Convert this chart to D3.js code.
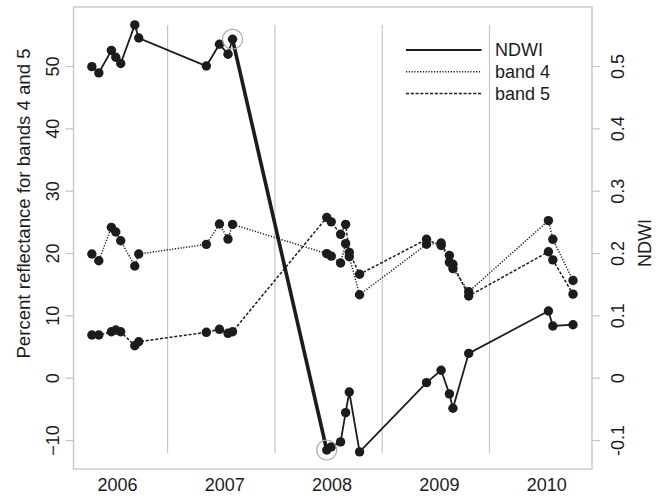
<!DOCTYPE html>
<html>
<head>
<meta charset="utf-8">
<script src="https://cdn.jsdelivr.net/npm/d3@7"></script>
<style>
  html, body { margin: 0; padding: 0; background: #fff; }
  svg { display: block; font-family: "Liberation Sans", Arial, Helvetica, sans-serif; }
</style>
</head>
<body>
<svg id="chart" width="656" height="498"></svg>
<script>
// Observation dates (decimal years)
const dates = [
  2005.766, 2005.831, 2005.948, 2005.989, 2006.035, 2006.166, 2006.203,
  2006.833, 2006.955, 2007.035, 2007.077,
  2007.955, 2007.997, 2008.084, 2008.131, 2008.165, 2008.261,
  2008.885, 2009.021, 2009.098, 2009.131, 2009.278,
  2010.021, 2010.062, 2010.250
];
// NDWI (right axis)
const ndwi = [
  0.499, 0.489, 0.525, 0.514, 0.504, 0.566, 0.545,
  0.500, 0.535, 0.519, 0.543,
  -0.116, -0.111, -0.103, -0.056, -0.023, -0.119,
  -0.008, 0.012, -0.026, -0.049, 0.039,
  0.107, 0.083, 0.085
];
// Percent reflectance, band 4
const band4 = [
  19.84, 18.76, 24.12, 23.37, 21.97, 17.91, 19.84,
  21.39, 24.65, 22.24, 24.60,
  19.90, 19.50, 18.40, 21.50, 19.40, 13.30,
  21.40, 21.60, 18.50, 17.50, 13.80,
  25.20, 22.20, 15.60
];
// Percent reflectance, band 5
const band5 = [
  6.84, 6.84, 7.37, 7.64, 7.37, 5.13, 5.77,
  7.28, 7.76, 7.12, 7.37,
  25.70, 25.00, 23.00, 24.60, 20.10, 16.60,
  22.20, 21.20, 19.60, 18.20, 13.10,
  20.20, 18.90, 13.40
];
// Index of the two NDWI observations marking the abrupt change
const changeFrom = 10, changeTo = 11;

const yearTicks = [2006, 2007, 2008, 2009, 2010];
const gridYears = [2006.472, 2007.472, 2008.472, 2009.472];
const leftTicks = [-10, 0, 10, 20, 30, 40, 50];
const rightTicks = [-0.1, 0, 0.1, 0.2, 0.3, 0.4, 0.5];
const rightTickLabels = ["-0.1", "0", "0.1", "0.2", "0.3", "0.4", "0.5"];
const legendNames = ["NDWI", "band 4", "band 5"];

const svg = d3.select("#chart");
const box = { left: 73.5, right: 592, top: 7, bottom: 469 };
const ink = "#1c1c1c";
const light = "#c4c4c4";

const x = d3.scaleLinear().domain([2005.595, 2010.427]).range([box.left, box.right]);
const y = d3.scaleLinear().domain([-14.65, 59.47]).range([box.bottom, box.top]);
const yR = d3.scaleLinear().domain([-0.1465, 0.5947]).range([box.bottom, box.top]);

// vertical year separators
svg.append("g").selectAll("line").data(gridYears).join("line")
  .attr("x1", d => x(d)).attr("x2", d => x(d))
  .attr("y1", box.top + 18).attr("y2", box.bottom - 16)
  .attr("stroke", light).attr("stroke-width", 1.2);

// plot frame
svg.append("rect")
  .attr("x", box.left).attr("y", box.top)
  .attr("width", box.right - box.left).attr("height", box.bottom - box.top)
  .attr("fill", "none").attr("stroke", light).attr("stroke-width", 1.3);

const idx = d3.range(dates.length);
const lineB = vals => d3.line().x(i => x(dates[i])).y(i => y(vals[i]));

// band 5 (dashed)
svg.append("path").attr("d", lineB(band5)(idx))
  .attr("fill", "none").attr("stroke", ink).attr("stroke-width", 1.5)
  .attr("stroke-dasharray", "3,1.8");
// band 4 (dotted)
svg.append("path").attr("d", lineB(band4)(idx))
  .attr("fill", "none").attr("stroke", ink).attr("stroke-width", 1.5)
  .attr("stroke-dasharray", "1.2,1.6");

// NDWI (solid), with the change segment emphasised
const lineN = d3.line().x(i => x(dates[i])).y(i => yR(ndwi[i]));
svg.append("path").attr("d", lineN(idx.slice(0, changeFrom + 1)))
  .attr("fill", "none").attr("stroke", ink).attr("stroke-width", 1.8);
svg.append("path").attr("d", lineN(idx.slice(changeTo)))
  .attr("fill", "none").attr("stroke", ink).attr("stroke-width", 1.8);
svg.append("path").attr("d", lineN([changeFrom, changeTo]))
  .attr("fill", "none").attr("stroke", ink).attr("stroke-width", 3.6);

// points
const pts = svg.append("g").attr("fill", ink);
[band4, band5].forEach(vals => {
  pts.append("g").selectAll("circle").data(idx).join("circle")
    .attr("cx", i => x(dates[i])).attr("cy", i => y(vals[i])).attr("r", 4.7);
});
pts.append("g").selectAll("circle").data(idx).join("circle")
  .attr("cx", i => x(dates[i])).attr("cy", i => yR(ndwi[i])).attr("r", 4.7);

// highlight rings around the change
svg.append("g").selectAll("circle").data([changeFrom, changeTo]).join("circle")
  .attr("cx", i => x(dates[i])).attr("cy", i => yR(ndwi[i])).attr("r", 10)
  .attr("fill", "none").attr("stroke", "#aaaaaa").attr("stroke-width", 1.2);

// left axis
const gL = svg.append("g").attr("transform", `translate(${box.left},0)`)
  .call(d3.axisLeft(y).tickValues(leftTicks).tickSize(8).tickFormat(d3.format("d")));
gL.select(".domain").remove();
gL.selectAll(".tick line").attr("stroke", light).attr("stroke-width", 1.2);
gL.selectAll(".tick text")
  .attr("x", null).attr("dy", "0.35em")
  .attr("transform", "translate(-21,0) rotate(-90)")
  .attr("text-anchor", "middle")
  .attr("fill", ink).style("font-size", "18px").style("font-family", null);

// right axis
const gR = svg.append("g").attr("transform", `translate(${box.right},0)`)
  .call(d3.axisRight(yR).tickValues(rightTicks).tickSize(8)
    .tickFormat((d, i) => rightTickLabels[i]));
gR.select(".domain").remove();
gR.selectAll(".tick line").attr("stroke", light).attr("stroke-width", 1.2);
gR.selectAll(".tick text")
  .attr("x", null).attr("dy", "0.35em")
  .attr("transform", "translate(26,0) rotate(-90)")
  .attr("text-anchor", "middle")
  .attr("fill", ink).style("font-size", "18px").style("font-family", null);

// bottom axis (labels only)
const gB = svg.append("g").attr("transform", `translate(0,${box.bottom})`)
  .call(d3.axisBottom(x).tickValues(yearTicks).tickSize(0).tickFormat(d3.format("d")));
gB.select(".domain").remove();
gB.selectAll(".tick text")
  .attr("y", 22).attr("dy", null)
  .attr("fill", ink).style("font-size", "18px").style("font-family", null);

// axis titles
svg.append("text")
  .attr("transform", "translate(30,203.5) rotate(-90)")
  .attr("text-anchor", "middle").attr("fill", ink).style("font-size", "18.6px")
  .text("Percent reflectance for bands 4 and 5");
svg.append("text")
  .attr("transform", "translate(651,243) rotate(-90)")
  .attr("text-anchor", "middle").attr("fill", ink).style("font-size", "18px")
  .text("NDWI");

// legend
const dashes = [null, "1.2,1.6", "3,1.8"];
const lg = svg.append("g");
legendNames.forEach((name, i) => {
  const ly = 50 + i * 21.7;
  lg.append("line").attr("x1", 406).attr("x2", 481.5).attr("y1", ly).attr("y2", ly)
    .attr("stroke", ink).attr("stroke-width", i === 0 ? 2 : 1.5)
    .attr("stroke-dasharray", dashes[i]);
  lg.append("text").attr("x", 495).attr("y", ly).attr("dy", "0.35em")
    .attr("fill", ink).style("font-size", "18px").text(name);
});
</script>
</body>
</html>
